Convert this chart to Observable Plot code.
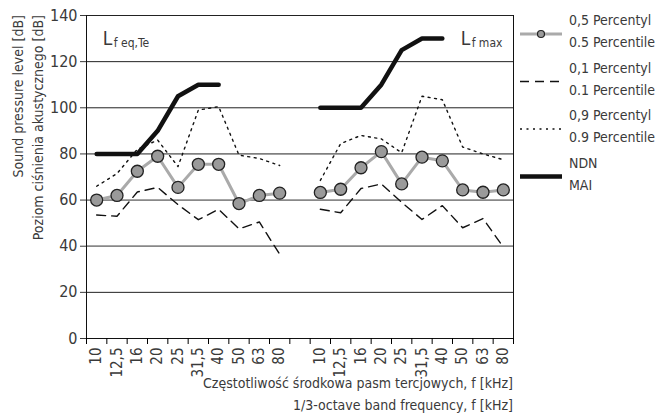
<!DOCTYPE html>
<html><head><meta charset="utf-8">
<script src="https://cdn.jsdelivr.net/npm/d3@7"></script>
<script src="https://cdn.jsdelivr.net/npm/@observablehq/plot@0.6"></script>
<style>
body{margin:0;background:#fff;}
#chart{width:656px;height:415px;}
svg text{font-family:"DejaVu Sans Condensed","DejaVu Sans",sans-serif;font-stretch:condensed;}
</style></head><body><div id="chart"></div>
<script>
// Data
const bands = ["10","12,5","16","20","25","31,5","40","50","63","80"];
const groupNames = ["L_f eq,Te","L_f max"];
const p50Eq  = [60, 62, 72.5, 79, 65.5, 75.5, 75.5, 58.5, 62, 63];
const p10Eq  = [53.5, 53, 63.5, 65.5, 58, 51.5, 56, 47.5, 50.5, 36.5];
const p90Eq  = [66, 71.5, 82, 86, 74.5, 99, 100.5, 79.5, 78, 75];
const ndnEq  = [80, 80, 80, 90, 105, 110, 110];
const p50Max = [63.3, 64.7, 74, 81, 67, 78.6, 77, 64.4, 63.4, 64.4];
const p10Max = [56, 54.5, 65, 67, 59, 51.6, 57.6, 48, 52, 39.6];
const p90Max = [68.5, 84.5, 88, 86.5, 80.5, 105, 103.5, 83, 80, 77.5];
const ndnMax = [100, 100, 100, 110, 125, 130, 130];
const yTicks = [0, 20, 40, 60, 80, 100, 120, 140];
const greyGrid = [40, 60];
const annotations = [
  {slot: 0.8, value: 130, main: "L", sub: "f eq,Te"},
  {slot: 18.4, value: 130, main: "L", sub: "f max"}
];
const legendItems = [
  {l1: "0,5 Percentyl", l2: "0.5 Percentile", kind: "p50"},
  {l1: "0,1 Percentyl", l2: "0.1 Percentile", kind: "p10"},
  {l1: "0,9 Percentyl", l2: "0.9 Percentile", kind: "p90"},
  {l1: "NDN", l2: "MAI", kind: "ndn"}
];

// Build table: 10 bands, a gap slot, 10 bands
const rows = [];
const series = [[p50Eq, p10Eq, p90Eq], [p50Max, p10Max, p90Max]];
series.forEach((s, g) => {
  bands.forEach((b, i) => {
    rows.push({group: groupNames[g], slot: g * 11 + i + 0.5, band: b, p50: s[0][i], p10: s[1][i], p90: s[2][i]});
  });
});
const ndnRows = [];
[ndnEq, ndnMax].forEach((arr, g) => arr.forEach((v, i) => ndnRows.push({group: groupNames[g], slot: g * 11 + i + 0.5, v})));
const centers = rows.map(d => d.slot);
const labelOf = new Map(rows.map(d => [d.slot, d.band]));
const txt = "#3a3a3a";

const plot = Plot.plot({
  width: 656, height: 415,
  marginLeft: 86, marginRight: 143, marginTop: 15, marginBottom: 77,
  x: {type: "linear", domain: [0, 21], axis: null},
  y: {domain: [0, 140], axis: null},
  marks: [
    Plot.ruleY(yTicks.filter(t => t > 0 && !greyGrid.includes(t)), {stroke: "#222", strokeWidth: 1}),
    Plot.ruleY(greyGrid, {stroke: "#888", strokeWidth: 1.8}),
    Plot.ruleY([0], {stroke: "#111", strokeWidth: 1}),
    Plot.ruleX([0, 21], {stroke: "#111", strokeWidth: 1}),
    Plot.axisY({ticks: yTicks, tickSize: 6, tickPadding: 3, fontSize: 16, label: null, color: txt}),
    Plot.axisX({ticks: d3.range(0, 22), tickSize: 6, tickFormat: () => "", label: null}),
    Plot.axisX({ticks: centers, tickSize: 0, tickPadding: 9, tickRotate: -90, fontSize: 15, tickFormat: d => labelOf.get(d), label: null, color: txt}),
    Plot.line(rows, {x: "slot", y: "p90", z: "group", stroke: "#111", strokeWidth: 1.4, strokeDasharray: "2,4.5"}),
    Plot.line(rows, {x: "slot", y: "p10", z: "group", stroke: "#111", strokeWidth: 1.4, strokeDasharray: "9,6"}),
    Plot.line(ndnRows, {x: "slot", y: "v", z: "group", stroke: "#111", strokeWidth: 4.5}),
    Plot.line(rows, {x: "slot", y: "p50", z: "group", stroke: "#aaa", strokeWidth: 3}),
    Plot.dot(rows, {x: "slot", y: "p50", r: 6, fill: "#9a9a9a", stroke: "#222", strokeWidth: 1.3}),
    Plot.text(annotations, {x: "slot", y: "value", text: "main", textAnchor: "start", fontSize: 19, fill: txt}),
    Plot.text(annotations, {x: "slot", y: "value", text: "sub", textAnchor: "start", fontSize: 12, dx: 11, dy: 5, fill: txt})
  ]
});
document.getElementById("chart").appendChild(plot);

const svg = d3.select(plot);
const fs = 14;
// Axis titles
svg.append("text").attr("transform", "translate(23,15) rotate(-90)").attr("text-anchor", "end")
  .attr("font-size", fs).attr("fill", txt).text("Sound pressure level [dB]");
svg.append("text").attr("transform", "translate(43,15) rotate(-90)").attr("text-anchor", "end")
  .attr("font-size", fs).attr("fill", txt).text("Poziom ciśnienia akustycznego [dB]");
svg.append("text").attr("x", 513).attr("y", 388).attr("text-anchor", "end")
  .attr("font-size", fs).attr("fill", txt).text("Częstotliwość środkowa pasm tercjowych, f [kHz]");
svg.append("text").attr("x", 513).attr("y", 410).attr("text-anchor", "end")
  .attr("font-size", fs).attr("fill", txt).text("1/3-octave band frequency, f [kHz]");

// Legend
const lg = svg.append("g");
legendItems.forEach((it, i) => {
  const cy = 34 + i * 47.5;
  const g = lg.append("g");
  const line = g.append("line").attr("x1", 520).attr("x2", 562).attr("y1", cy).attr("y2", cy);
  if (it.kind === "p50") {
    line.attr("stroke", "#aaa").attr("stroke-width", 3);
    g.append("circle").attr("cx", 541).attr("cy", cy).attr("r", 3.5).attr("fill", "#9a9a9a").attr("stroke", "#222").attr("stroke-width", 1.2);
  } else if (it.kind === "p10") {
    line.attr("stroke", "#111").attr("stroke-width", 1.6).attr("stroke-dasharray", "9,6");
  } else if (it.kind === "p90") {
    line.attr("stroke", "#111").attr("stroke-width", 1.6).attr("stroke-dasharray", "2,4.5");
  } else {
    line.attr("stroke", "#111").attr("stroke-width", 4.5);
  }
  g.append("text").attr("x", 569).attr("y", cy - 9).attr("text-anchor", "start").attr("font-size", fs).attr("fill", txt).text(it.l1);
  g.append("text").attr("x", 569).attr("y", cy + 13).attr("text-anchor", "start").attr("font-size", fs).attr("fill", txt).text(it.l2);
});
</script></body></html>
